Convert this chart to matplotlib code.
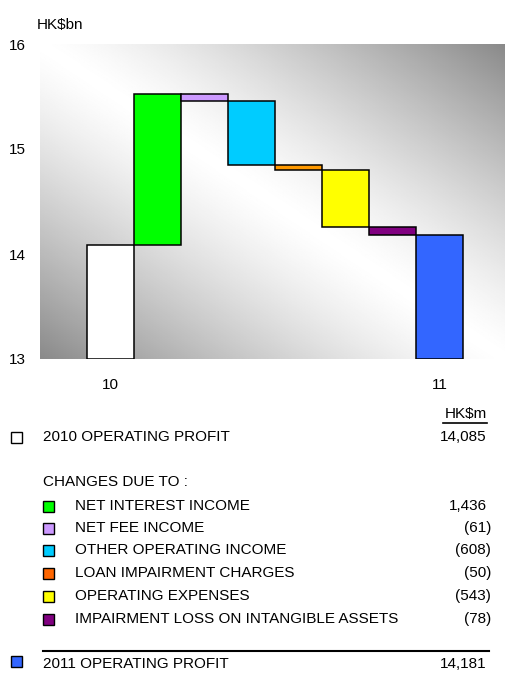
import numpy as np
import matplotlib.pyplot as plt
from matplotlib.patches import Rectangle

plt.rcParams['font.family'] = ['Liberation Sans', 'DejaVu Sans']

# operating profit bridge, HK$m
start_label = "2010 OPERATING PROFIT"
start_value = 14085
end_label = "2011 OPERATING PROFIT"
end_value = 14181
change_labels = ["NET INTEREST INCOME", "NET FEE INCOME", "OTHER OPERATING INCOME",
                 "LOAN IMPAIRMENT CHARGES", "OPERATING EXPENSES",
                 "IMPAIRMENT LOSS ON INTANGIBLE ASSETS"]
change_values = [1436, -61, -608, -50, -543, -78]
change_texts = ["1,436", "(61)", "(608)", "(50)", "(543)", "(78)"]
bar_colors = ["#00FF00", "#CC99FF", "#00CCFF", "#FF9900", "#FFFF00", "#800080"]
key_colors = ["#00FF00", "#CC99FF", "#00CCFF", "#FF6600", "#FFFF00", "#800080"]
end_color = "#3366FF"
x_ticklabels = ["10", "11"]

W, H = 506, 673
fig = plt.figure(figsize=(W / 100, H / 100), dpi=100)


def fx(px):
    return px / W


def fy(py):
    return 1 - py / H


ax = fig.add_axes([fx(40), fy(359), fx(466), 315 / H])

# diagonal grey-white-grey shading behind the bars
n = 300
gx, gy = np.meshgrid(np.linspace(0, 1, n), np.linspace(0, 1, n))
u = np.abs(gx + gy - 1)
shade = 1 - 0.46 * u ** 1.3
ax.imshow(shade, cmap='gray', vmin=0, vmax=1, extent=(0, 1, 0, 1), origin='lower',
          aspect='auto', transform=ax.transAxes, zorder=0, interpolation='bilinear')

# waterfall: start bar, floating change bars, end bar
heights = [start_value / 1000]
bottoms = [13.0]
colors = ["white"]
level = start_value
for v, c in zip(change_values, bar_colors):
    lo = min(level, level + v)
    heights.append(abs(v) / 1000)
    bottoms.append(lo / 1000)
    colors.append(c)
    level += v
heights[0] = start_value / 1000 - 13.0
heights.append(end_value / 1000 - 13.0)
bottoms.append(13.0)
colors.append(end_color)

pos = np.arange(len(heights))
ax.bar(pos, heights, bottom=bottoms, width=1.0, color=colors,
       edgecolor='black', linewidth=1.1, zorder=2)

ax.set_xlim(-1.5, 8.41)
ax.set_ylim(13, 16)
ax.set_yticks([13, 14, 15, 16])
ax.set_xticks([pos[0], pos[-1]])
ax.set_xticklabels(x_ticklabels)
ax.tick_params(length=0, labelsize=11, pad=10)
ax.tick_params(axis='x', pad=14)
for s in ax.spines.values():
    s.set_visible(False)

fig.text(fx(37), fy(25), "HK$bn", fontsize=11, va='center', ha='left')

# key table under the chart
fs = 11
fig.text(fx(487), fy(414), "HK$m", fontsize=fs, ha='right', va='center')
fig.add_artist(plt.Line2D([fx(443), fx(487)], [fy(423), fy(423)], color='black',
                          linewidth=1.2, transform=fig.transFigure))


def key_box(x, y, color):
    fig.add_artist(Rectangle((fx(x), fy(y + 5.5)), fx(11), 11 / H, facecolor=color,
                             edgecolor='black', linewidth=1.0,
                             transform=fig.transFigure))


def amount(y, text):
    x = 491 if text.endswith(')') else 487
    fig.text(fx(x), fy(y), text, fontsize=fs, ha='right', va='center')


key_box(11, 437, "white")
fig.text(fx(43), fy(437), start_label, fontsize=fs, va='center')
amount(437, f"{start_value:,}")

fig.text(fx(43), fy(482), "CHANGES DUE TO :", fontsize=fs, va='center')
row_y = [506, 528, 550, 573, 596, 619]
for y, lab, col, txt in zip(row_y, change_labels, key_colors, change_texts):
    key_box(43, y, col)
    fig.text(fx(75), fy(y), lab, fontsize=fs, va='center')
    amount(y, txt)

fig.add_artist(plt.Line2D([fx(43), fx(489)], [fy(651), fy(651)], color='black',
                          linewidth=1.5, transform=fig.transFigure))
key_box(11, 661, end_color)
fig.text(fx(43), fy(664), end_label, fontsize=fs, va='center')
amount(664, f"{end_value:,}")

fig.savefig("out.png", dpi=100)
